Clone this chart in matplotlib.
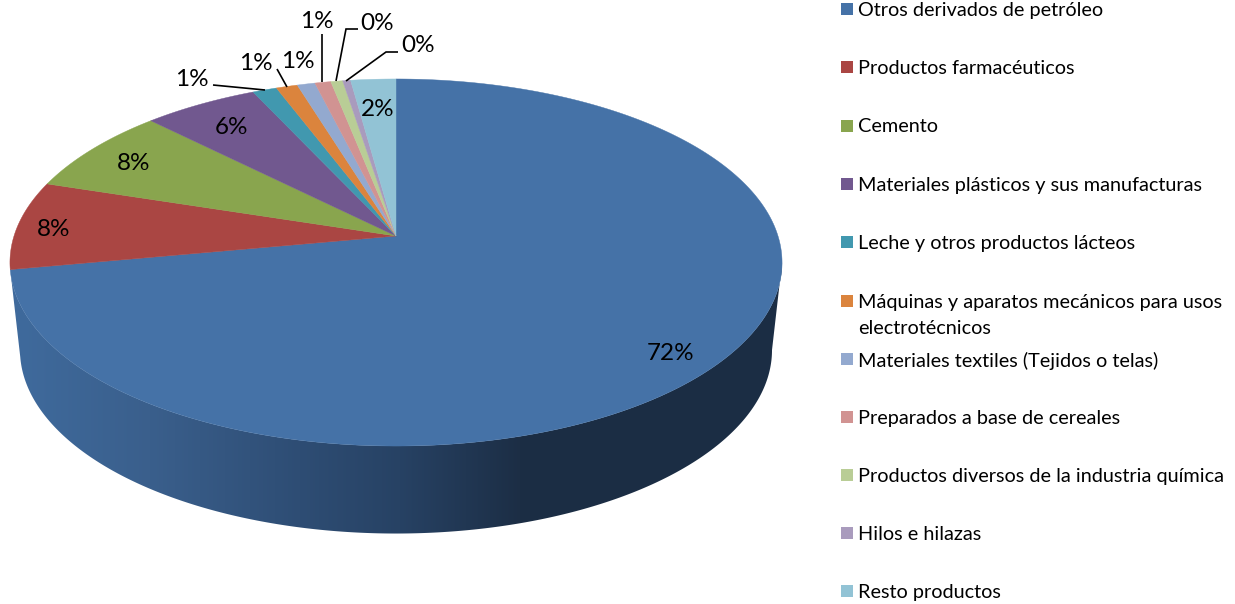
import numpy as np
import matplotlib
matplotlib.use("Agg")
import matplotlib.pyplot as plt
from matplotlib.patches import Polygon, Rectangle
from matplotlib.colors import to_rgb

categories = ["Otros derivados de petróleo", "Productos farmacéuticos", "Cemento",
              "Materiales plásticos y sus manufacturas", "Leche y otros productos lácteos",
              "Máquinas y aparatos mecánicos para usos\nelectrotécnicos",
              "Materiales textiles (Tejidos o telas)", "Preparados a base de cereales",
              "Productos diversos de la industria química", "Hilos e hilazas", "Resto productos"]
values = [72.06, 7.8, 7.6, 5.55, 1.17, 1.03, 0.86, 0.77, 0.57, 0.38, 2.17]
labels = ["72%", "8%", "8%", "6%", "1%", "1%", "1%", "1%", "0%", "0%", "2%"]
colors = ["#4572A7", "#AA4643", "#89A54E", "#71588F", "#4198AF", "#DB843D",
          "#93A9CF", "#D19392", "#B9CD96", "#A99BBD", "#92C3D5"]

label_xy = [(671, 354), (54, 230), (134, 164), (232, 128), (192, 79), (256, 63),
            (298, 61), (317, 21), (377, 24), (418, 46), (378, 109)]
leaders = {4: [(213, 85), (265, 90)], 5: [(277, 69), (287, 87)],
           7: [(322, 34), (322, 82)], 8: [(358, 29), (346, 29), (336, 81)],
           9: [(398, 52), (386, 52), (346, 81)]}

APEX = (396.0, 236.0)
A, B, P = 382.0, 179.7, 0.1444
DEPTH, SHRINK = 87.5, 0.974
FONT = "Lato"

def rim(theta, bottom=False):
    u, v = np.sin(theta), np.cos(theta)
    d = 1 + P * v
    x, y = A * u / d, -B * v / d
    if bottom:
        return APEX[0] + SHRINK * x, APEX[1] + y + DEPTH
    return APEX[0] + x, APEX[1] + y

fig = plt.figure(figsize=(12.35, 6.04), dpi=100)
ax = fig.add_axes([0, 0, 1, 1])
ax.axis("off")

fractions = np.array(values) / sum(values)
edges = np.concatenate([[0], np.cumsum(fractions)]) * 2 * np.pi

# front wall of the first slice, shaded from left to right
t = np.linspace(np.arccos(-P), edges[1], 400)
xt, yt = rim(t)
xb, yb = rim(t, True)
wall = Polygon(np.column_stack([np.r_[xt, xb[::-1]], np.r_[yt, yb[::-1]]]), closed=True,
               transform=ax.transData, facecolor="none", edgecolor="none")
ax.add_patch(wall)
stops_x = [20, 150, 300, 400, 520, 790]
stops_c = np.array([to_rgb(c) for c in ["#3F6A9C", "#3A5F8C", "#2E4D74", "#274264", "#1C2E45", "#1B2D44"]])
gx = np.arange(0, 800)
grad = np.column_stack([np.interp(gx, stops_x, stops_c[:, k]) for k in range(3)])[None, :, :]
im = ax.imshow(grad, extent=(0, 800, 540, 250), aspect="auto", interpolation="bilinear", zorder=1)
im.set_clip_path(wall)

ax.set_xlim(0, 1235)
ax.set_ylim(604, 0)

# top face
for i, c in enumerate(colors):
    th = np.linspace(edges[i], edges[i + 1], max(4, int(fractions[i] * 600)))
    x, y = rim(th)
    pts = np.column_stack([np.r_[APEX[0], x], np.r_[APEX[1], y]])
    ax.add_patch(Polygon(pts, closed=True, facecolor=c, edgecolor=c, linewidth=0.3, zorder=2))

for pts in leaders.values():
    ax.plot(*zip(*pts), color="black", lw=1.2, solid_capstyle="butt", solid_joinstyle="miter", zorder=3)

for (x, y), s in zip(label_xy, labels):
    ax.text(x, y, s, ha="center", va="center", fontsize=17.5, family=FONT, color="black", zorder=4)

# legend
row_y = [9, 67, 125.5, 184, 242, 301, 359, 417, 475, 533, 591]
for y, name, c in zip(row_y, categories, colors):
    ax.add_patch(Rectangle((841, y - 6), 12, 12, facecolor=c, edgecolor="none"))
    for k, line in enumerate(name.split("\n")):
        ax.text(858, y + 1.5 + k * 25.5, line, ha="left", va="center", fontsize=14.27, family=FONT, color="black")

fig.savefig("out.png", dpi=100)
